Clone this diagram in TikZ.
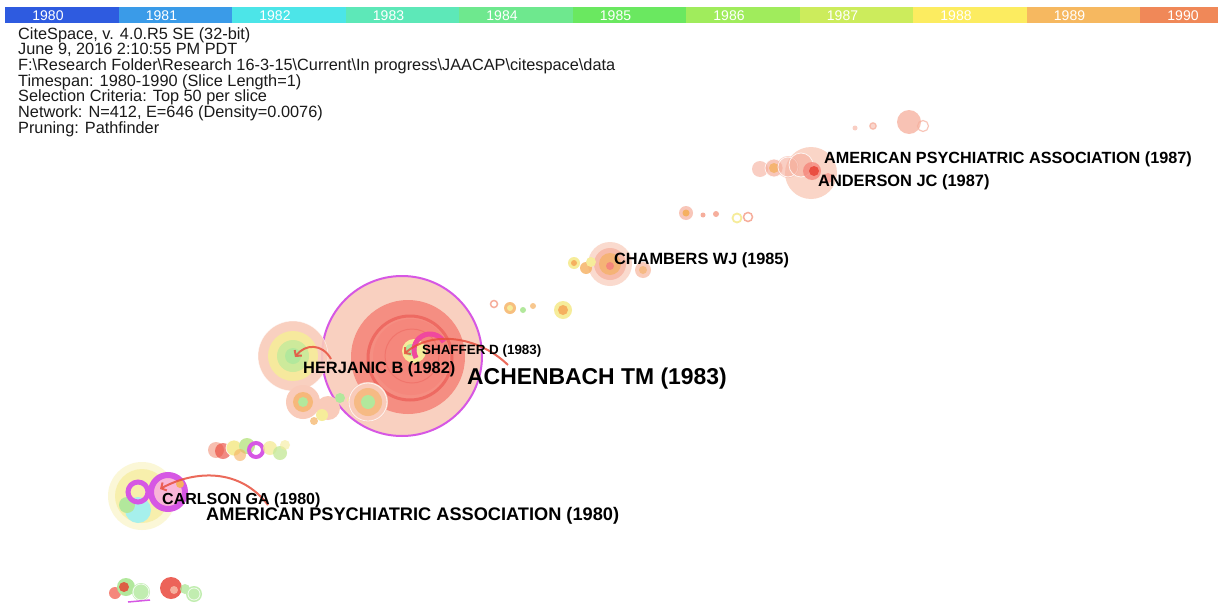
\documentclass[tikz,border=0pt]{standalone}
\usepackage{fontspec}
\setmainfont{Liberation Sans}
\usetikzlibrary{arrows.meta}
\definecolor{c80}{HTML}{2E5BE0}
\definecolor{c81}{HTML}{3A9BE8}
\definecolor{c82}{HTML}{4CE5E8}
\definecolor{c83}{HTML}{5DE8B8}
\definecolor{c84}{HTML}{6EE88E}
\definecolor{c85}{HTML}{6AE860}
\definecolor{c86}{HTML}{A0EC5C}
\definecolor{c87}{HTML}{CCEC5C}
\definecolor{c88}{HTML}{FCEC60}
\definecolor{c89}{HTML}{F6B860}
\definecolor{c90}{HTML}{F08858}
\definecolor{peach}{HTML}{F9CBBA}
\definecolor{salm}{HTML}{F6AE9C}
\definecolor{redA}{HTML}{F5877C}
\definecolor{redB}{HTML}{EE6A62}
\definecolor{redC}{HTML}{E83C30}
\definecolor{magO}{HTML}{D657E4}
\definecolor{hotp}{HTML}{F0489E}
\definecolor{yel}{HTML}{F6EC9A}
\definecolor{grn}{HTML}{B2E89C}
\definecolor{org}{HTML}{F5B060}
\definecolor{cyn}{HTML}{A6F0EC}
\definecolor{edgered}{HTML}{E8503E}
\definecolor{hdr}{HTML}{1A1A1A}
\newcommand\blob[4]{\fill[#4] (#1,#2) circle (#3);}
\tikzset{
  lbl/.style={anchor=west, inner sep=0pt, text=black},
  edgeR/.style={draw=edgered, line width=2pt, opacity=0.85, -{Straight Barb[length=4pt,width=9pt]}},
  yearlbl/.style={text=white, inner sep=0pt, font=\fontsize{14}{14}\selectfont},
  ringw/.style={draw=white, line width=0.8pt, opacity=0.8},
}
\begin{document}
\begin{tikzpicture}[x=1pt,y=-1pt]
\useasboundingbox (0,0) rectangle (1218,605);
\fill[white] (0,0) rectangle (1218,605);
% ---------- year bar ----------
\foreach \i/\c/\yr in {0/c80/1980,1/c81/1981,2/c82/1982,3/c83/1983,4/c84/1984,5/c85/1985,6/c86/1986,7/c87/1987,8/c88/1988,9/c89/1989}{
  \fill[\c] (5+\i*113.5,7) rectangle (5+\i*113.5+113.6,23);
  \node[yearlbl] (y\yr) at (5+\i*113.5+43,15.5) {\yr};
}
\fill[c90] (1140,7) rectangle (1218,23);
\node[yearlbl] (y1990) at (1183,15.5) {1990};
% ---------- header ----------
\node[anchor=north west, inner sep=0pt, align=left, text=hdr,
      font=\fontsize{16.3}{15.7}\selectfont] (hdr) at (18,27)
 {CiteSpace, v. 4.0.R5 SE (32-bit)\\
  June 9, 2016 2:10:55 PM PDT\\
  F:\textbackslash Research Folder\textbackslash Research 16-3-15\textbackslash Current\textbackslash In progress\textbackslash JAACAP\textbackslash citespace\textbackslash data\\
  Timespan: 1980-1990 (Slice Length=1)\\
  Selection Criteria: Top 50 per slice\\
  Network: N=412, E=646 (Density=0.0076)\\
  Pruning: Pathfinder};
% ---------- 1987 cluster ----------
\blob{855}{128}{2.5}{salm, opacity=.6}
\blob{873}{126}{4}{salm, opacity=.5}
\draw[salm, line width=1pt, opacity=.7] (873,126) circle (3);
\blob{909}{122}{12}{salm, opacity=.75}
\draw[salm, line width=1.2pt, opacity=.7] (923,126) circle (5.5);
\blob{811}{173}{26}{peach, opacity=.8}
\blob{760}{169}{8}{salm, opacity=.6}
\blob{774}{168}{9}{salm, opacity=.7}
\blob{774}{168}{5}{org, opacity=.8}
\draw[ringw] (774,168) circle (9);
\blob{788}{167}{11}{salm, opacity=.6}
\draw[ringw] (788,167) circle (10);
\blob{801}{165}{12}{salm, opacity=.6}
\draw[ringw] (801,165) circle (12);
\blob{812}{171}{9}{redA, opacity=.8}
\blob{814}{171}{5}{redC, opacity=.8}
\blob{828}{178}{5}{redA, opacity=.6}
% small nodes row
\blob{686}{213}{7}{salm, opacity=.7}
\blob{686}{213}{3.5}{org}
\blob{703}{215}{2.5}{salm}
\blob{716}{214}{3}{salm}
\draw[yel, line width=1.8pt] (737,218) circle (4.5);
\draw[salm, line width=1.5pt] (748,217) circle (4.5);
% ---------- 1985 cluster ----------
\blob{610}{264}{22}{peach, opacity=.7}
\blob{610}{264}{16}{salm, opacity=.7}
\blob{610}{264}{11}{org, opacity=.7}
\blob{610}{266}{4}{redA}
\blob{574}{263}{6}{yel}
\blob{574}{263}{3}{org}
\blob{586}{268}{6}{org, opacity=.8}
\blob{591}{262}{5}{yel}
\blob{643}{270}{8}{peach}
\blob{643}{270}{4}{org, opacity=.6}
\blob{563}{310}{9}{yel}
\blob{563}{310}{5}{org}
\draw[salm, line width=1.5pt] (494,304) circle (3.5);
\blob{510}{308}{6}{org, opacity=.8}
\blob{510}{308}{3}{yel}
\blob{523}{310}{3}{grn}
\blob{533}{306}{3}{org, opacity=.7}
% ---------- 1983 big node ----------
\blob{402}{356}{80}{peach, opacity=.9}
\blob{408}{357}{57}{redA, opacity=.9}
\draw[redB, line width=3pt] (410,358) circle (42);
\blob{411}{357}{38}{redA}
\draw[redB, line width=1pt, opacity=.6] (412,356) circle (27);
\draw[magO, line width=2pt] (402,356) circle (80);
\blob{414}{351}{12}{yel}
\blob{411}{350}{6}{grn}
\draw[hotp, line width=5pt] ([shift={(150:16)}]430,350) arc[start angle=150, end angle=330, radius=16];
% ---------- 1982 cluster ----------
\blob{293}{356}{35}{peach, opacity=.9}
\blob{293}{356}{25}{yel, opacity=.9}
\blob{293}{356}{16}{grn!60!yel}
\blob{293}{356}{8}{grn}
\draw[white, line width=0.6pt, opacity=.6] (293,356) circle (35);
\blob{303}{402}{17}{peach}
\blob{303}{402}{10}{org, opacity=.7}
\blob{303}{402}{5}{grn}
\blob{328}{408}{12}{peach}
\blob{322}{415}{6}{yel}
\blob{340}{398}{5}{grn}
\blob{351}{400}{4}{yel}
\blob{368}{402}{20}{peach}
\blob{368}{402}{14}{org, opacity=.6}
\blob{368}{402}{7}{grn}
\draw[ringw] (368,402) circle (19);
\blob{314}{421}{4}{org, opacity=.7}
% ---------- 1981 row ----------
\blob{216}{450}{8}{salm, opacity=.8}
\blob{223}{451}{8}{redC, opacity=.6}
\blob{234}{448}{8}{yel}
\draw[ringw] (234,448) circle (8);
\blob{247}{446}{8}{grn!70!yel}
\blob{240}{455}{6}{org, opacity=.6}
\draw[magO, line width=4pt] (256,450) circle (7);
\blob{270}{448}{7}{yel, opacity=.8}
\blob{280}{453}{7}{grn!70!yel, opacity=.8}
\blob{285}{445}{5}{yel, opacity=.6}
% ---------- 1980 cluster ----------
\blob{142}{496}{34}{yel!50, opacity=.8}
\blob{142}{496}{27}{yel, opacity=.7}
\blob{138}{510}{13}{cyn}
\blob{127}{505}{8}{grn}
\draw[magO, line width=5pt] (138,492) circle (10);
\blob{168}{492}{17}{hotp!40}
\draw[magO, line width=6pt] (168,492) circle (17);
\blob{180}{484}{4}{org}
% ---------- bottom cluster ----------
\blob{115}{593}{6}{redA}
\blob{126}{587}{9}{grn}
\blob{124}{587}{5}{redC, opacity=.8}
\blob{141}{592}{9}{grn!80!white}
\draw[ringw] (141,592) circle (8);
\draw[magO, line width=1.5pt] (128,602) -- (150,600);
\blob{171}{588}{11}{redC, opacity=.8}
\blob{174}{590}{4}{salm}
\blob{185}{589}{5}{grn, opacity=.8}
\blob{194}{594}{8}{grn!80!white}
\draw[ringw] (194,594) circle (6);
% ---------- edges ----------
\coordinate (eAs) at (508,365);
\coordinate (eAt) at (404,354);
\draw[edgeR] (eAs) .. controls (478,336) and (432,330) .. (eAt);
\coordinate (eHs) at (331,359);
\coordinate (eHt) at (295,357);
\draw[edgeR] (eHs) .. controls (322,343) and (305,344) .. (eHt);
\coordinate (eCs) at (268,505);
\coordinate (eCt) at (160,489);
\draw[edgeR] (eCs) .. controls (240,468) and (195,470) .. (eCt);
% ---------- labels ----------
\node[lbl, font=\bfseries\fontsize{16.2}{16}\selectfont] (apa87) at (824,159) {AMERICAN PSYCHIATRIC ASSOCIATION (1987)};
\node[lbl, font=\bfseries\fontsize{16.4}{16}\selectfont] (and87) at (818,182) {ANDERSON JC (1987)};
\node[lbl, font=\bfseries\fontsize{16.3}{16}\selectfont] (cha85) at (614,260) {CHAMBERS WJ (1985)};
\node[lbl, font=\bfseries\fontsize{13.4}{14}\selectfont] (sha83) at (422,351) {SHAFFER D (1983)};
\node[lbl, font=\bfseries\fontsize{16.4}{16}\selectfont] (her82) at (303,369) {HERJANIC B (1982)};
\node[lbl, font=\bfseries\fontsize{22.9}{23}\selectfont] (ach83) at (467,379) {ACHENBACH TM (1983)};
\node[lbl, font=\bfseries\fontsize{16}{16}\selectfont] (car80) at (162,500) {CARLSON GA (1980)};
\node[lbl, font=\bfseries\fontsize{18.2}{18}\selectfont] (apa80) at (206,516) {AMERICAN PSYCHIATRIC ASSOCIATION (1980)};
\end{tikzpicture}
\end{document}
